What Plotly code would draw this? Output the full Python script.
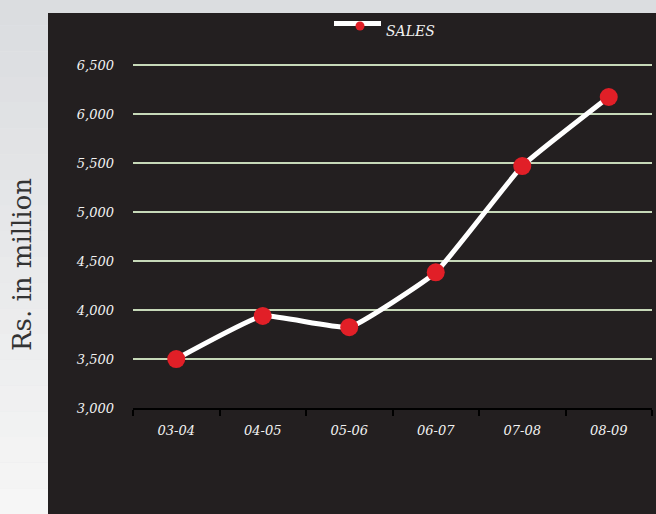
import plotly.graph_objects as go

# Annual sales, Rs. in million
years = ["03-04", "04-05", "05-06", "06-07", "07-08", "08-09"]
sales = [3500, 3940, 3825, 4385, 5470, 6175]
y_ticks = [3000, 3500, 4000, 4500, 5000, 5500, 6000, 6500]
y_tick_text = ["3,000", "3,500", "4,000", "4,500", "5,000", "5,500", "6,000", "6,500"]
series_name = "SALES"
y_title = "Rs. in million"

W, H = 656, 514
L, R, T, B = 133, 4, 64, 106
pw, ph = W - L - R, H - T - B


def px_x(p):
    return (p - L) / pw


def px_y(p):
    return (H - B - p) / ph


serif = "DejaVu Serif"
label_font = dict(family=serif, size=13, color="#f2f2f2", style="italic")
line_color = "white"
marker_color = "#e11f27"

fig = go.Figure()
fig.add_trace(go.Scatter(
    x=years, y=sales, name=series_name, mode="lines+markers", showlegend=False,
    line=dict(color=line_color, width=5, shape="spline", smoothing=0.35),
    marker=dict(color=marker_color, size=18),
))

shapes = []
# light gradient backdrop in horizontal bands
bands = 20
for i in range(bands):
    t = i / (bands - 1)
    r = int(0xdb + (0xf6 - 0xdb) * t)
    g = int(0xdd + (0xf6 - 0xdd) * t)
    b = int(0xe0 + (0xf6 - 0xe0) * t)
    shapes.append(dict(
        type="rect", xref="paper", yref="paper", layer="below",
        x0=px_x(0), x1=px_x(W), y0=px_y(H * (i + 1) / bands), y1=px_y(H * i / bands),
        fillcolor=f"rgb({r},{g},{b})", line=dict(width=0),
    ))
# dark chart panel
shapes.append(dict(
    type="rect", xref="paper", yref="paper", layer="below",
    x0=px_x(48), x1=px_x(W + 2), y0=px_y(H + 2), y1=px_y(13),
    fillcolor="#231f20", line=dict(width=0),
))
# legend key: line sample with a small marker
shapes.append(dict(
    type="line", xref="paper", yref="paper",
    x0=px_x(334), x1=px_x(381), y0=px_y(23.5), y1=px_y(23.5),
    line=dict(color=line_color, width=5),
))
shapes.append(dict(
    type="circle", xref="paper", yref="paper",
    x0=px_x(355.5), x1=px_x(364.5), y0=px_y(30.5), y1=px_y(21.5),
    fillcolor=marker_color, line=dict(width=0),
))

annotations = [
    dict(
        text=series_name, xref="paper", yref="paper", showarrow=False,
        x=px_x(384), y=px_y(31), xanchor="left", yanchor="middle",
        font=dict(family=serif, size=14, color="#f2f2f2", style="italic"),
    ),
    dict(
        text=y_title, xref="paper", yref="paper", showarrow=False, textangle=-90,
        x=px_x(22), y=px_y(265), xanchor="center", yanchor="middle",
        font=dict(family=serif, size=26, color="#333333"),
    ),
]

fig.update_layout(
    width=W, height=H,
    margin=dict(l=L, r=R, t=T, b=B),
    paper_bgcolor="#e6e7e9",
    plot_bgcolor="#231f20",
    shapes=shapes,
    annotations=annotations,
    showlegend=False,
    xaxis=dict(
        type="category", range=[-0.5, len(years) - 0.5],
        showgrid=False, showline=True, linecolor="#000000", linewidth=2,
        ticks="outside", ticklen=6, tickcolor="#000000", tickwidth=1.5,
        tickson="boundaries", ticklabelstandoff=9,
        tickfont=label_font,
        zeroline=False,
    ),
    yaxis=dict(
        range=[3000, 6512], tickvals=y_ticks, ticktext=y_tick_text,
        showgrid=True, gridcolor="#c6d8b8", gridwidth=2,
        showline=False, zeroline=False, ticks="", ticklabelstandoff=18,
        tickfont=label_font,
    ),
)

fig.write_html("out.html")
